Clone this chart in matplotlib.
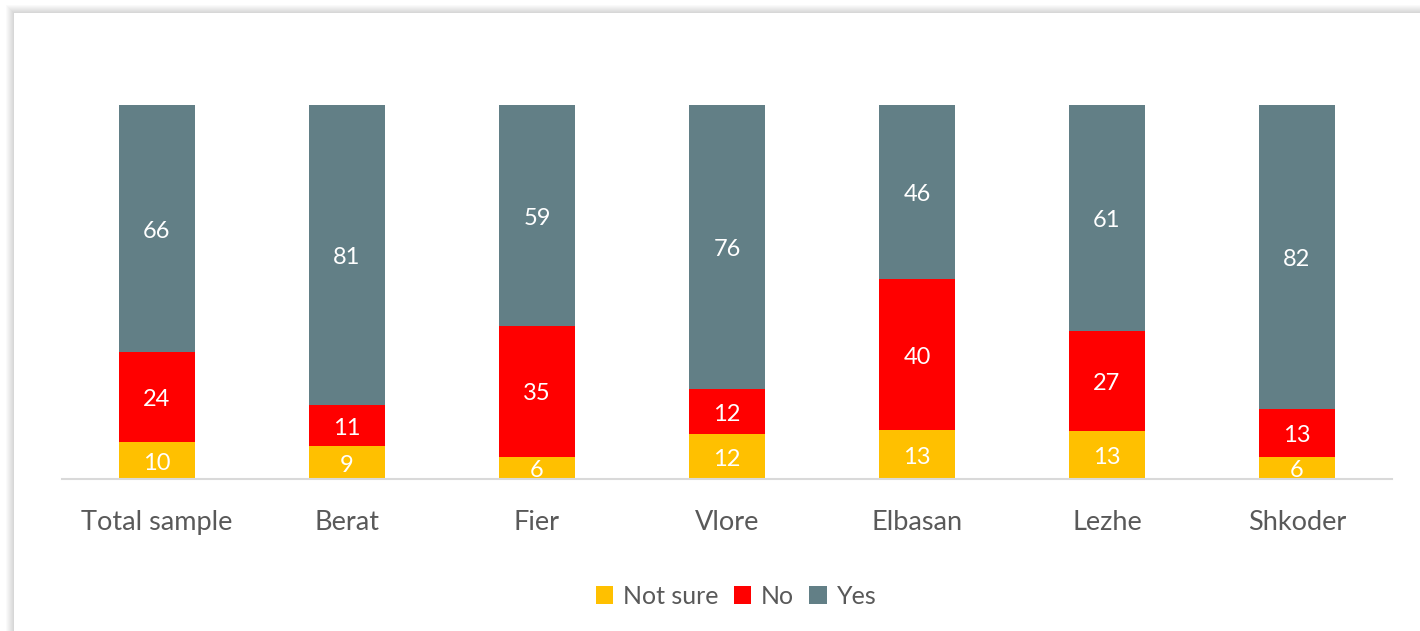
import numpy as np
import matplotlib.pyplot as plt
from matplotlib.patches import Rectangle

categories = ["Total sample", "Berat", "Fier", "Vlore", "Elbasan", "Lezhe", "Shkoder"]
not_sure = [10, 9, 6, 12, 13, 13, 6]
no = [24, 11, 35, 12, 40, 27, 13]
yes = [66, 81, 59, 76, 46, 61, 82]

series = [("Not sure", not_sure, "#FFC000"), ("No", no, "#FF0000"), ("Yes", yes, "#627F86")]

plt.rcParams['font.family'] = ['Lato', 'DejaVu Sans']

fig = plt.figure(figsize=(14.2, 6.31), dpi=100)

# soft shadow behind the chart area
W, H = 1420, 631
for k in range(8, 0, -1):
    fig.patches.append(Rectangle(((14 - k) / W, 0), 1, (H - 13 + k) / H,
                                 transform=fig.transFigure, facecolor="#000000",
                                 alpha=0.018, edgecolor="none", zorder=-2))
fig.patches.append(Rectangle((14 / W, 0), 1, (H - 13) / H, transform=fig.transFigure,
                             facecolor="white", edgecolor="none", zorder=-1))

ax = fig.add_axes([62 / W, 1 - 479 / H, 1330 / W, 374 / H])
ax.set_facecolor("none")
ax.set_zorder(2)

x = np.arange(len(categories))
totals = np.array(not_sure) + np.array(no) + np.array(yes)
bottom = np.zeros(len(categories))
for name, vals, col in series:
    share = np.array(vals) / totals * 100
    ax.bar(x, share, 0.395, bottom=bottom, color=col, label=name, zorder=2)
    for xi, b, s, v in zip(x, bottom, share, vals):
        ax.annotate(str(v), (xi, b + s / 2), xytext=(0, -2), textcoords="offset points",
                    ha="center", va="center", color="white", fontsize=17, zorder=3)
    bottom += share

ax.set_xlim(-0.5, len(categories) - 0.5)
ax.set_ylim(0, 100)
ax.set_yticks([])
for s in ["top", "right", "left"]:
    ax.spines[s].set_visible(False)
ax.spines["bottom"].set_color("#D9D9D9")
ax.spines["bottom"].set_linewidth(1.5)
ax.set_xticks(x)
ax.set_xticklabels(categories, fontsize=19.5, color="#595959")
ax.tick_params(axis="x", length=0, pad=22)

leg = fig.legend(loc="center", bbox_to_anchor=(736 / W, 1 - 596 / H), ncol=3,
                 frameon=False, fontsize=18, handlelength=0.7, handleheight=0.7,
                 handletextpad=0.4, columnspacing=0.6)
for t in leg.get_texts():
    t.set_color("#595959")

fig.savefig("out.png", dpi=100)
